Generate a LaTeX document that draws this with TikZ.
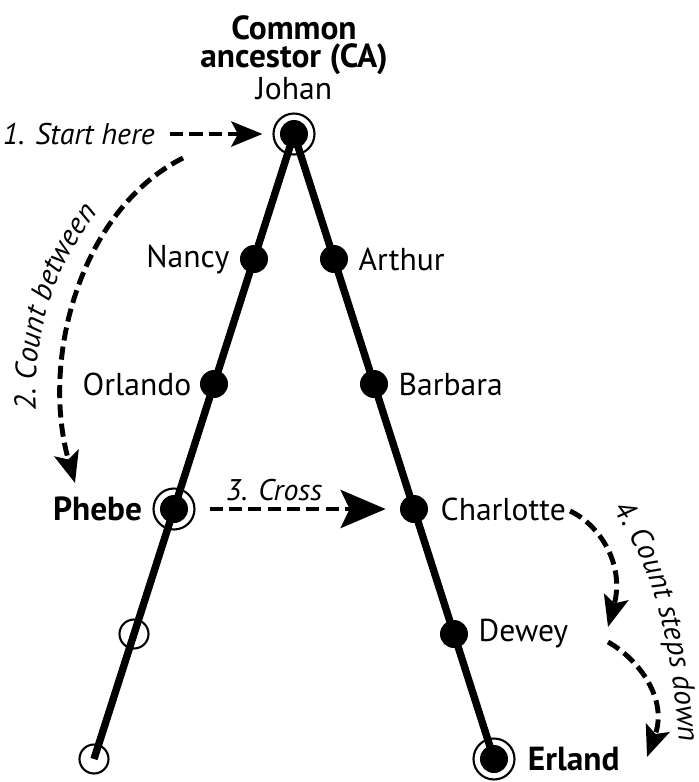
\documentclass[tikz,border=0pt]{standalone}
\usepackage{fontspec}
\setmainfont{PT Sans}
\usetikzlibrary{positioning,arrows.meta,decorations.text}
\newcommand\hintfont{\fontsize{17}{20}\selectfont\itshape}
\tikzset{
  dot/.style={circle,fill=black,inner sep=0pt,minimum size=0.56cm},
  hollow/.style={circle,draw=black,line width=1.2pt,inner sep=0pt,minimum size=0.58cm},
  ring/.style={circle,draw=black,line width=1.2pt,inner sep=0pt,minimum size=0.82cm},
  trunk/.style={line width=4.2pt},
  lbl/.style={inner sep=0pt,font=\fontsize{18}{20}\selectfont},
  boldlbl/.style={inner sep=0pt,font=\fontsize{19}{20}\selectfont\bfseries},
  hint/.style={inner sep=0pt,font=\hintfont},
  guide/.style={line width=2.8pt,dash pattern=on 7.5pt off 3.5pt,
    -{Stealth[length=0.62cm,width=0.5cm,inset=0.13cm]}},
  bigguide/.style={guide,-{Stealth[length=0.9cm,width=0.76cm,inset=0.18cm]}},
}
\begin{document}
\begin{tikzpicture}[x=0.02cm,y=-0.02cm]
\useasboundingbox (0,0) rectangle (699,782);
% the two lines of descent
\node[dot] (johan) at (294,134) {};
\node[ring] (johanring) at (johan) {};
\node[dot] (nancy) at (254,259) {};
\node[dot] (orlando) at (214,384) {};
\node[dot] (phebe) at (174,509) {};
\node[ring] (phebering) at (phebe) {};
\node[hollow] (lopen) at (134,634) {};
\node[hollow] (lend) at (94,759) {};
\node[dot] (arthur) at (334,259) {};
\node[dot] (barbara) at (374,384) {};
\node[dot] (charlotte) at (414,509) {};
\node[dot] (dewey) at (454,634) {};
\node[dot] (erland) at (494,759) {};
\node[ring] (erlandring) at (erland) {};
\draw[trunk] (johan.center) -- (lend.center);
\draw[trunk] (johan.center) -- (erland.center);
% names
\node[lbl, above=0.24cm of johanring] (johanname) {Johan};
\node[boldlbl, align=center, above=0.05cm of johanname, font=\fontsize{19}{15.5}\selectfont\bfseries] {Common\\ancestor (CA)};
\node[lbl, left=0.2cm of nancy] {Nancy};
\node[lbl, left=0.16cm of orlando] {Orlando};
\node[boldlbl, left=0.2cm of phebering] {Phebe};
\node[lbl, right=0.2cm of arthur] {Arthur};
\node[lbl, right=0.2cm of barbara] {Barbara};
\node[lbl, right=0.24cm of charlotte] {Charlotte};
\node[lbl, right=0.2cm of dewey] {Dewey};
\node[boldlbl, right=0.24cm of erlandring] {Erland};
% steps
\node[hint, anchor=east] (start) at (155,134) {1. Start here};
\draw[guide, shorten <=0.3cm, shorten >=0.2cm] (start.east) -- (johanring.west);
\coordinate (countfrom) at (183,158);
\coordinate (countto) at (75,483);
\draw[guide] (countfrom) .. controls (80,210) and (40,360) .. (countto);
\path[decorate, decoration={text along path, text format delimiters={|}{|},
  text={|\hintfont|2. Count between}}] (36,410) .. controls (30,320) and (70,220) .. (140,175);
\node[hint] (cross) at (274,490) {3. Cross};
\draw[bigguide, shorten <=0.28cm, shorten >=0.28cm] (phebering.east) -- (charlotte.west);
\coordinate (downfrom) at (570,511);
\coordinate (downmid) at (608,627);
\coordinate (downnext) at (608,642);
\coordinate (downto) at (647,757);
\draw[guide] (downfrom) .. controls (600,525) and (625,565) .. (downmid);
\draw[guide] (downnext) .. controls (640,660) and (668,700) .. (downto);
\path[decorate, decoration={text along path, text format delimiters={|}{|},
  text={|\hintfont|4. Count steps down}}] (612,510) .. controls (640,545) and (672,610) .. (680,760);
\end{tikzpicture}
\end{document}
